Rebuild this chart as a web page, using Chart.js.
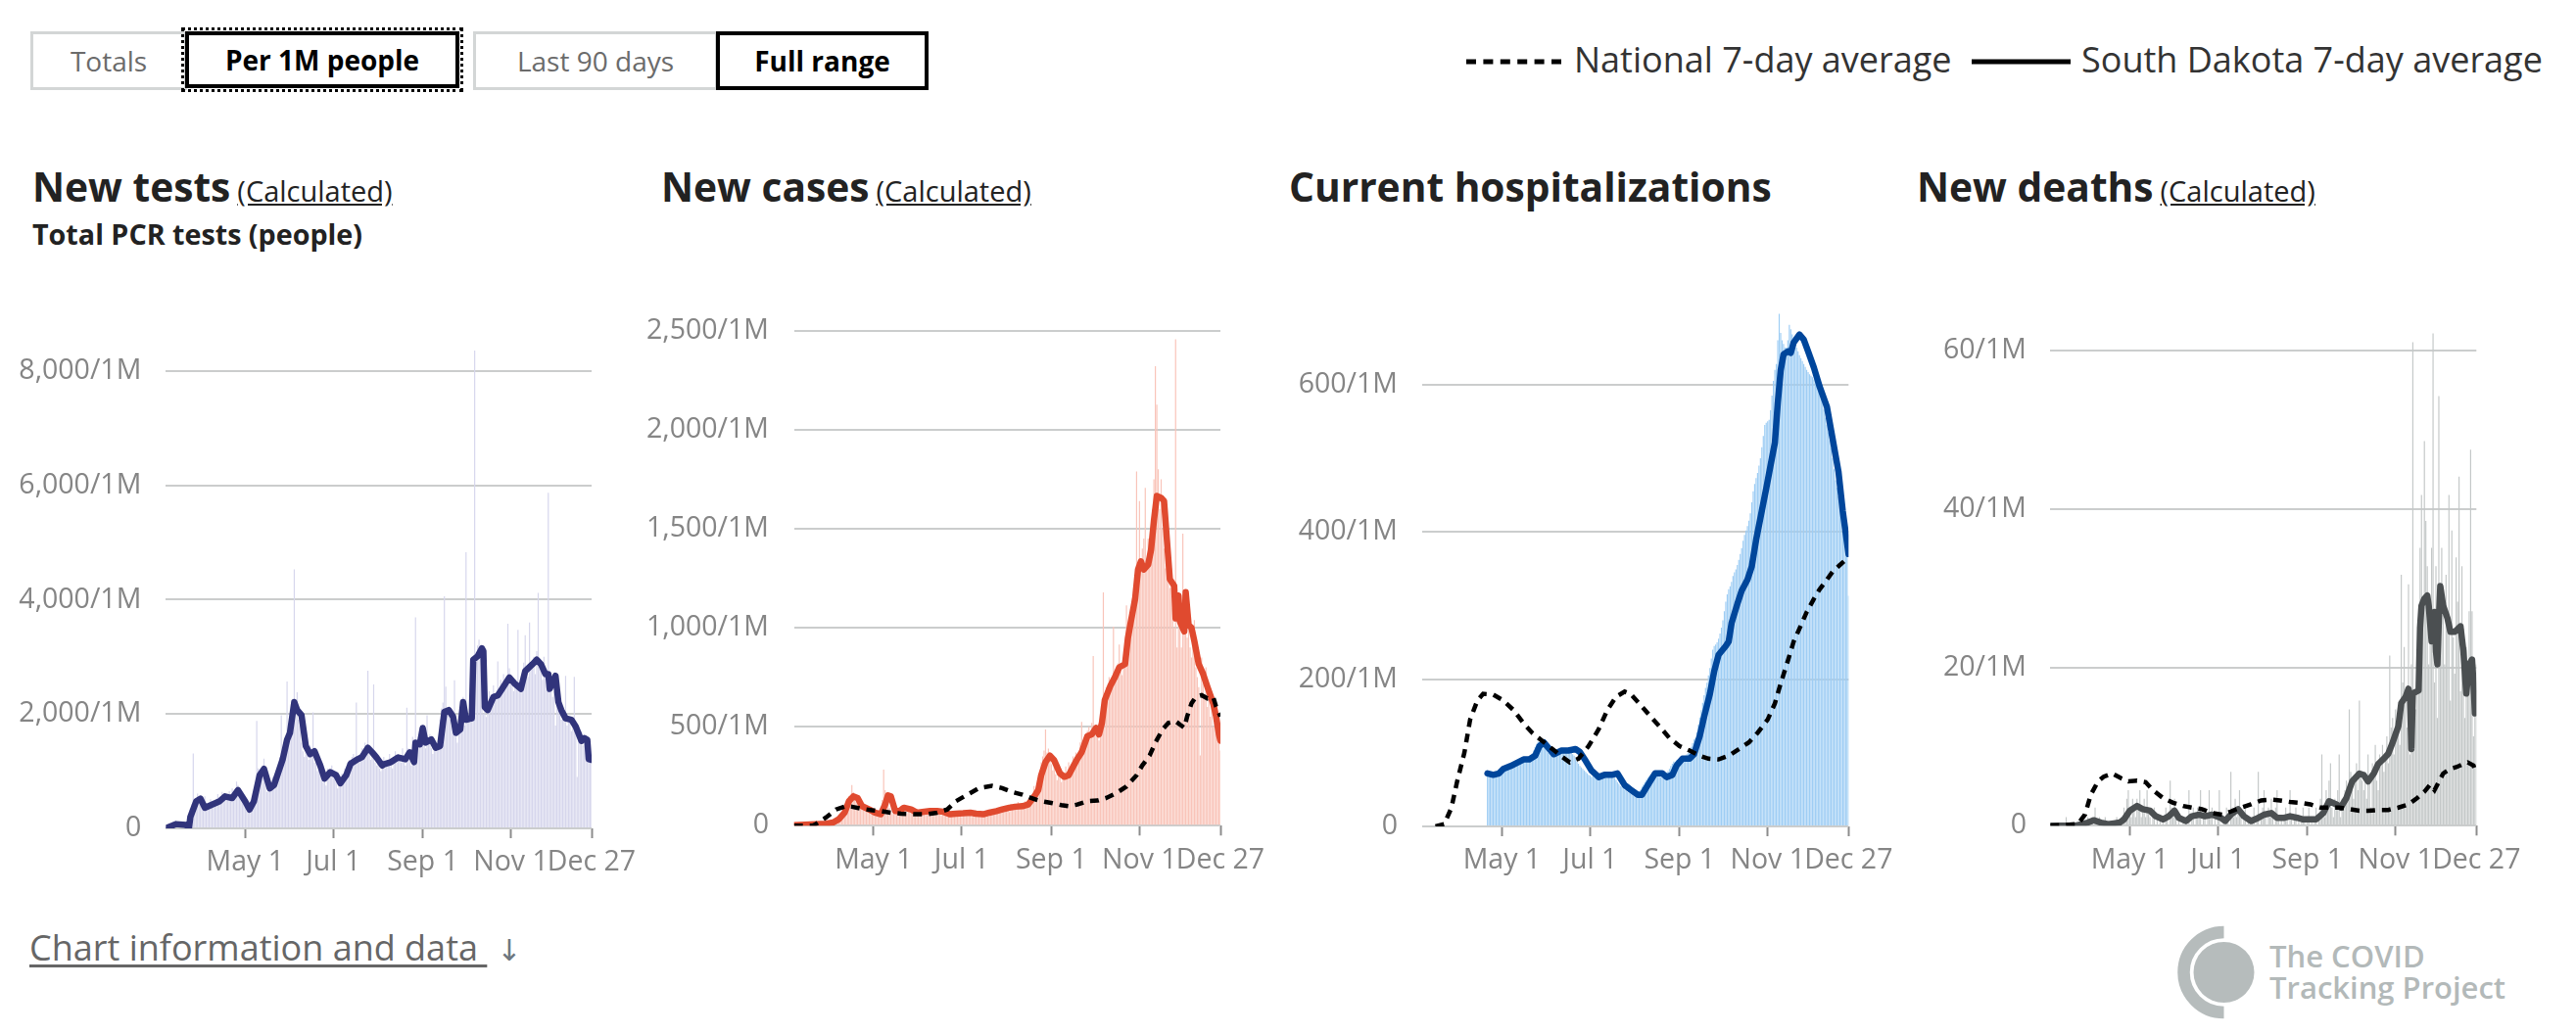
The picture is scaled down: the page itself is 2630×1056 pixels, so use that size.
<!DOCTYPE html>
<html><head><meta charset="utf-8">
<script src="https://cdn.jsdelivr.net/npm/chart.js"></script>
<style>
html,body{margin:0;padding:0;background:#fff;width:2630px;height:1056px;overflow:hidden;font-family:"Open Sans",sans-serif;}
.btn{position:absolute;box-sizing:border-box;display:flex;align-items:center;justify-content:center;font-size:28px;line-height:28px;white-space:nowrap;}
.off{border:3px solid #d3d6d6;color:#6b6b6b;}
.on{border:4px solid #000;color:#000;font-weight:700;}
.title{position:absolute;top:170px;font-size:40.7px;font-weight:700;line-height:41px;color:#222;white-space:nowrap;}
.calc{font-size:29px;font-weight:400;text-decoration:underline;margin-left:7px;color:#222;}
.sub{position:absolute;top:225px;left:33px;font-size:28.7px;font-weight:700;line-height:28px;color:#222;white-space:nowrap;}
.leg{position:absolute;top:43px;font-size:36px;line-height:36px;color:#333;white-space:nowrap;}
canvas{position:absolute;top:245px;}
</style></head><body>

<div class="btn off" style="left:31px;top:32px;width:160px;height:60px;">Totals</div>
<div class="btn on" style="left:189px;top:32px;width:280px;height:58px;outline:3px dotted #000;outline-offset:1px;">Per 1M people</div>
<div class="btn off" style="left:483px;top:32px;width:250px;height:60px;">Last 90 days</div>
<div class="btn on" style="left:731px;top:32px;width:217px;height:60px;">Full range</div>

<svg style="position:absolute;left:0;top:0" width="2630" height="120">
  <line x1="1497" y1="63" x2="1594" y2="63" stroke="#000" stroke-width="5" stroke-dasharray="10 7.4"/>
  <line x1="2013" y1="63" x2="2114" y2="63" stroke="#000" stroke-width="5"/>
</svg>
<div class="leg" style="left:1607px;">National 7-day average</div>
<div class="leg" style="left:2125px;">South Dakota 7-day average</div>

<div class="title" style="left:33px;">New tests<span class="calc">(Calculated)</span></div>
<div class="sub">Total PCR tests (people)</div>
<div class="title" style="left:675px;">New cases<span class="calc">(Calculated)</span></div>
<div class="title" style="left:1316px;">Current hospitalizations</div>
<div class="title" style="left:1957px;">New deaths<span class="calc">(Calculated)</span></div>

<canvas id="c1" width="664" height="680" style="left:0px;width:664px;height:680px;"></canvas>
<canvas id="c2" width="656" height="680" style="left:650px;width:656px;height:680px;"></canvas>
<canvas id="c3" width="658" height="680" style="left:1290px;width:658px;height:680px;"></canvas>
<canvas id="c4" width="654" height="680" style="left:1935px;width:654px;height:680px;"></canvas>

<div style="position:absolute;left:30px;top:950px;font-size:36px;line-height:36px;color:#666;white-space:nowrap;">
  <span style="text-decoration:underline;text-decoration-thickness:3px;text-underline-offset:4px;">Chart information and data&nbsp;</span><span style="margin-left:10px;font-family:'DejaVu Sans';font-size:30px;color:#6d7780;">↓</span>
</div>

<svg style="position:absolute;left:2200px;top:930px" width="430" height="126">
  <path d="M 70.5 22 A 41 41 0 0 0 70.5 104" fill="none" stroke="#b6bcbc" stroke-width="12.5"/>
  <circle cx="70.5" cy="63" r="31" fill="#b6bcbc"/>
  <text x="117" y="58" font-family="Open Sans" font-weight="600" font-size="31" fill="#b3b9b9">The COVID</text>
  <text x="117" y="90" font-family="Open Sans" font-weight="600" font-size="31" fill="#b3b9b9">Tracking Project</text>
</svg>

<script>
// Day index 0 = Mar 7, 2020; 295 = Dec 27, 2020
const xTickDays = [55, 116, 178, 239, 295];
const xTickLabels = ['May 1', 'Jul 1', 'Sep 1', 'Nov 1', 'Dec 27'];

// ---------- New tests (per 1M) ----------
const testsTicks = [0, 2000, 4000, 6000, 8000];
const testsBars = [
0,0,40,0,80,120,60,
90,70,50,110,60,40,80,
50,0,0,350,420,1310,480,
520,610,540,430,380,470,560,
450,380,420,510,470,360,440,
520,600,480,560,640,530,610,
580,520,650,560,700,610,540,
820,760,690,600,520,430,380,
300,280,350,420,560,620,700,
1880,1050,980,900,1100,1220,860,
640,720,780,680,900,760,820,
980,1100,1250,1980,1300,1450,1500,
2570,1600,1750,1900,2100,4530,2000,
2380,1900,1800,1500,1350,1250,1400,
1300,1200,1450,1350,2030,1150,1250,
1000,1100,950,850,800,900,750,
1050,1000,900,1100,950,880,820,
700,780,850,960,900,1050,1000,
1150,1200,1100,1250,1300,1180,2200,
1250,1150,1300,1400,1350,1500,1450,
2760,1350,1200,1300,2520,1150,1100,
1200,1050,1000,1150,1250,1050,1150,
1200,1300,1100,1050,1250,1350,1150,
1300,1250,1150,1400,1200,1100,2110,
1400,1200,1100,1600,1300,3690,1500,
1600,1500,1800,1750,1600,1400,1980,
1500,1650,1400,1300,1550,1450,1350,
1500,1900,2100,2200,4060,2480,2000,
2100,1900,1800,2000,2590,1600,1500,
1700,1900,2000,2300,1800,4830,1850,
2000,1850,2100,2800,8360,3000,3200,
3300,3100,2900,2000,2100,1950,2200,
2400,2200,2350,2500,2250,2300,2920,
2400,2600,2500,2700,2450,2650,3580,
2800,2700,2550,2400,2600,2500,3475,
2500,2400,2700,2900,3380,2800,2650,
3600,2900,2800,3000,2700,3100,4120,
2900,2800,2600,3000,2700,2500,5870,
2500,2600,2300,2400,1800,2200,2100,
2000,1900,2100,2000,2670,1800,1850,
1950,1700,1800,2650,1750,900,1600,
1500,1700,1450,1600,1400,1300,1250,
1200,1150];
const testsLineDays = [0,7,14,16,17,21,24,27,32,37,41,46,50,55,58,61,65,68,72,75,78,81,84,86,89,91,94,97,100,103,107,110,114,118,121,125,128,133,136,140,143,146,150,152,156,161,166,169,172,173,176,178,180,184,187,190,193,196,199,201,204,206,208,212,213,216,219,220,221,223,227,230,233,238,242,246,249,254,257,260,263,265,266,270,272,274,277,281,284,288,290,292,293,295];
const testsLineVals = [0,75,60,0,200,470,520,360,415,470,560,530,670,470,330,470,930,1040,700,760,985,1210,1550,1670,2210,2070,1980,1440,1300,1350,1100,870,985,930,790,930,1130,1210,1250,1410,1330,1240,1100,1130,1160,1240,1210,1330,1160,1500,1470,1755,1500,1555,1410,1440,2040,2070,1955,1670,1730,2210,1900,1925,2950,3010,3150,3100,2120,2070,2300,2325,2440,2640,2525,2440,2750,2870,2950,2870,2700,2700,2440,2670,2210,2070,1925,1900,1780,1530,1580,1550,1210,1200];

// ---------- New cases (per 1M) ----------
const casesTicks = [0, 500, 1000, 1500, 2000, 2500];
const casesBars = [
0,0,0,0,2,0,5,
3,6,4,8,5,7,9,
6,10,12,9,14,15,11,
18,14,20,25,17,22,28,
30,26,35,40,33,45,60,
70,85,110,150,135,206,170,
140,120,110,95,100,90,105,
80,95,70,85,60,75,65,
55,70,45,60,65,130,283,
180,150,120,90,70,60,85,
75,90,65,80,100,95,85,
70,60,85,75,65,80,55,
70,65,50,75,80,60,70,
55,65,75,60,50,70,80,
65,55,60,75,50,65,70,
60,45,55,70,65,50,60,
75,55,60,50,45,70,65,
55,60,50,65,45,70,55,
60,70,55,65,50,75,60,
70,55,80,65,60,75,85,
70,90,75,65,95,80,85,
100,85,70,110,90,95,80,
105,120,90,100,85,115,125,
110,95,130,150,120,200,140,
180,230,280,320,350,380,486,
370,390,340,310,280,300,260,
230,250,280,220,240,260,300,
270,320,290,310,350,330,370,
340,380,420,524,400,390,460,
480,500,440,520,857,460,510,
470,430,520,600,1178,650,700,
680,750,720,690,1005,760,730,
820,915,780,760,850,880,1113,
950,1050,1000,1150,1200,1250,1789,
1300,1640,1350,1400,1450,1706,1300,
1450,1350,1500,1600,1750,2320,2126,
1800,1600,1750,1500,1400,1300,1350,
1250,1200,1300,1100,1000,2456,900,
1150,1050,900,1475,1000,1100,950,
1130,900,850,950,1038,800,750,
700,355,850,720,650,800,600,
700,550,650,500,600,580,450,
420,380];
const casesLineDays = [0,15,22,27,31,35,38,41,44,47,52,56,60,63,65,67,70,73,76,81,85,90,94,99,103,108,112,117,122,126,131,135,140,144,149,153,158,162,167,169,171,174,177,180,184,187,190,193,196,199,203,206,209,211,213,215,219,222,225,229,231,233,236,238,240,242,245,247,249,251,254,256,258,260,263,264,266,267,270,271,273,275,277,280,283,286,290,292,294,295];
const casesLineVals = [3,8,10,16,33,66,124,148,140,99,82,66,58,107,153,148,74,74,91,82,66,71,74,74,71,58,61,63,66,61,58,66,74,82,91,96,99,107,157,181,255,321,354,330,264,247,255,297,338,371,453,461,494,461,519,635,709,750,800,816,948,1030,1146,1294,1335,1294,1319,1393,1541,1665,1656,1640,1442,1245,1212,1047,1162,1030,981,1179,1014,1000,931,816,767,701,618,552,460,430];
const casesNatDays = [0,13,15,22,29,36,40,47,54,60,67,74,83,92,99,106,112,119,128,137,144,151,158,164,171,178,185,190,196,203,210,216,223,230,237,241,246,250,255,259,264,267,270,272,275,278,282,286,290,292,295];
const casesNatVals = [0,0,8,41,82,99,96,86,78,74,66,61,58,58,66,82,124,153,190,201,190,170,157,140,124,115,104,99,107,124,127,140,165,198,255,305,354,420,486,519,528,511,495,552,618,651,659,643,650,602,552];

// ---------- Current hospitalizations (per 1M) ----------
const hospTicks = [0, 200, 400, 600];
const hospBars = [
null,null,null,null,null,null,null,
null,null,null,null,null,null,null,
null,null,null,null,null,null,null,
null,null,null,null,null,null,null,
null,null,null,null,null,null,null,
null,null,null,null,null,null,null,
null,null,null,72,70,73,71,
72,74,73,75,74,76,77,
78,80,79,82,83,84,85,
86,85,88,87,90,89,92,
91,93,92,94,95,97,99,
103,108,112,115,113,110,108,
111,106,104,100,99,101,97,
98,102,104,103,105,101,104,
103,106,104,102,105,100,98,
96,92,88,85,82,80,78,
76,74,72,70,69,67,68,
66,68,69,67,70,71,69,
70,72,71,69,70,72,68,
66,63,60,58,55,54,52,
50,49,47,46,45,44,42,
41,43,45,48,50,54,57,
60,63,66,68,70,72,71,
73,72,70,68,67,69,70,
71,73,75,78,82,85,88,
88,90,91,92,93,94,95,
96,98,100,103,108,113,118,
120,128,138,148,158,168,178,
188,195,205,215,228,240,245,
247,250,255,262,270,280,292,
305,315,322,326,332,340,345,
349,355,362,370,378,388,396,
402,408,415,425,440,455,465,
473,480,490,500,515,530,545,
548,550,552,565,585,605,620,
628,660,696,670,660,655,650,
650,660,681,675,668,660,654,
650,645,640,636,632,628,624,
620,617,614,612,610,607,605,
605,598,590,582,575,566,555,
545,535,525,514,500,485,470,
460,448,435,420,402,398,394,
380,313];
const hospLineDays = [45,49,53,56,61,65,70,74,78,81,84,88,91,96,101,106,109,113,117,122,126,131,135,140,144,149,152,156,161,166,169,173,176,180,185,188,192,195,199,202,205,210,212,214,218,221,225,228,231,235,238,241,244,246,248,250,253,255,257,261,264,267,271,275,280,284,288,291,295];
const hospLineVals = [72,70,72,78,82,86,91,91,96,109,114,105,98,103,103,105,101,89,76,67,70,70,72,56,50,43,43,56,72,72,67,70,83,92,92,98,123,149,180,211,233,245,251,276,302,320,335,353,389,429,459,490,521,575,619,641,645,643,657,668,661,645,623,597,570,526,482,428,370];
const hospNatDays = [9,11,15,20,24,29,33,38,42,49,56,63,70,76,83,90,97,102,108,115,122,128,134,140,144,151,158,165,171,178,185,192,198,205,212,219,226,232,239,244,248,253,257,262,266,271,275,280,284,289,293,295];
const hospNatVals = [0,1,3,25,61,100,145,171,180,179,171,158,140,127,116,105,94,87,92,109,132,158,176,183,180,165,149,134,120,109,103,96,92,91,96,105,114,127,145,167,194,225,251,273,291,309,322,335,346,355,362,366];

// ---------- New deaths (per 1M) ----------
const deathsTicks = [0, 20, 40, 60];
const deathsBars = [
0,0,0,0,0,0,0,
0,0,0,0,1.1,0,0,
0,0,0,0,0,0,0,
0,0,0,0,0,1.1,0,
0,1.1,0,2.3,0,0,1.1,
0,0,0,1.1,0,0,0,
0,0,0,0,1.1,0,0,
1.1,0,2.3,1.1,3.4,4.5,2.3,
1.1,3.4,2.3,1.1,3.4,2.3,4.5,
1.1,2.3,3.4,1.1,4.5,2.3,1.1,
0,1.1,2.3,0,1.1,0,1.1,
0,1.1,0,2.3,1.1,0,5.7,
2.3,1.1,3.4,1.1,0,1.1,0,
0,1.1,0,1.1,0,4.5,0,
1.1,2.3,0,1.1,2.3,1.1,4.5,
0,1.1,2.3,0,1.1,4.5,1.1,
2.3,0,1.1,0,1.1,4.5,0,
0,1.1,0,2.3,1.1,0,6.8,
2.3,1.1,3.4,1.1,2.3,4.5,1.1,
0,1.1,2.3,0,1.1,0,0,
1.1,2.3,0,1.1,6.8,0,1.1,
2.3,4.5,1.1,0,2.3,1.1,3.4,
1.1,0,2.3,4.5,1.1,0,1.1,
0,1.1,2.3,1.1,0,4.5,1.1,
0,1.1,2.3,0,1.1,0,1.1,
2.3,1.1,0,1.1,2.3,0,1.1,
0,1.1,2.3,0,1.1,3.4,9.0,
2.3,1.1,4.5,3.4,5.7,7.9,2.3,
1.1,3.4,2.3,4.5,9.0,1.1,3.4,
2.3,4.5,5.7,3.4,14.7,6.8,4.5,
3.4,5.7,7.9,4.5,15.8,6.8,5.7,
4.5,6.8,3.4,9.0,5.7,2.3,7.9,
6.8,10.2,5.7,4.5,9.0,7.9,10.2,
6.8,9.0,11.3,7.9,21.5,12.4,13.6,
9.0,14.7,11.3,13.6,10.2,31.7,18.1,
22.6,15.8,12.4,30.5,9.0,20.4,61.1,
17.0,14.7,19.2,24.9,35.1,41.8,27.1,
48.6,38.5,32.8,20.4,26.0,35.1,62.2,
18.1,32.8,13.6,54.3,22.6,35.1,28.3,
20.4,31.7,26.0,41.8,15.8,37.3,23.8,
19.2,33.9,28.3,44.1,17.0,32.8,24.9,
13.6,22.6,18.1,27.1,47.5,27.1,11.3,
15.8,20.4];
const deathsLineDays = [0,17,22,26,30,35,40,44,48,51,55,60,64,69,73,78,82,86,89,94,98,103,107,112,118,121,125,130,134,139,144,148,153,157,162,166,171,175,180,184,189,193,198,201,205,209,214,217,220,224,227,231,234,237,241,243,246,248,249,250,251,253,255,256,257,259,261,262,264,265,266,267,268,269,270,272,275,277,280,284,286,288,290,292,293,294,295];
const deathsLineVals = [0,0,0.2,0.4,0.7,0.4,0.2,0.3,0.4,0.8,1.9,2.5,2.1,1.9,1.2,0.8,1.2,1.9,1.0,0.6,1.2,1.4,1.2,1.4,1.0,0.6,1.4,2.1,1.2,0.6,1.0,1.4,1.6,1.0,1.0,1.2,1.0,0.8,0.8,0.8,1.6,3.1,2.7,2.3,3.5,5.6,6.6,6.4,5.6,6.6,7.8,8.5,9.1,10.5,12.6,15.5,16.3,17.3,16.5,9.7,16.7,16.9,17.1,25,27.8,28.7,29.1,27.8,23.3,25,27,22,20.4,26,30.3,27.8,26.2,24.5,24.5,25.2,22.1,16.7,20.4,21,18,14.2,14.5];
const deathsNatDays = [0,19,24,28,33,37,43,49,54,60,66,71,78,85,92,98,105,112,119,125,132,139,146,153,159,166,173,180,187,193,200,207,214,220,227,234,241,248,254,259,263,266,268,272,277,281,286,289,293,295];
const deathsNatVals = [0,0.2,1.4,3.9,5.6,6.2,6.6,6.0,5.6,5.7,5.5,4.5,3.5,2.9,2.5,2.3,2.1,1.6,1.4,1.8,2.3,2.7,3.2,3.3,3.2,3.0,2.9,2.7,2.3,2.3,2.3,2.1,1.9,1.9,2.0,2.0,2.3,2.7,3.5,4.3,5.2,4.5,5.2,6.6,7.2,7.4,7.8,8.0,7.6,6.6];

function pts(days, vals) {
  const n = Math.min(days.length, vals.length);
  const out = [];
  for (let i = 0; i < n; i++) out.push({x: days[i], y: vals[i]});
  return out;
}

function buildChart(id, o) {
  const datasets = [
    {type: 'line', data: pts(o.natDays, o.natVals), borderColor: '#000', borderWidth: 4.5,
     borderDash: [9, 7], pointRadius: 0, tension: 0, order: 0},
    {type: 'line', data: pts(o.lineDays, o.lineVals), borderColor: o.lineColor, borderWidth: 6.5,
     pointRadius: 0, tension: 0, borderJoinStyle: 'round', borderCapStyle: 'round', order: 1},
    {type: 'bar', data: o.bars.map((v, i) => ({x: i, y: v})), backgroundColor: o.barColor,
     barPercentage: 0.8, categoryPercentage: 1, order: 2}
  ];
  new Chart(document.getElementById(id), {
    type: 'bar',
    data: {datasets},
    options: {
      responsive: false, animation: false, devicePixelRatio: 1,
      layout: {padding: {top: o.padTop, bottom: o.padBottom, left: 10, right: o.padRight}},
      plugins: {legend: {display: false}, tooltip: {enabled: false}},
      scales: {
        x: {
          type: 'linear', min: 0, max: 295, offset: false,
          afterBuildTicks: s => { s.ticks = xTickDays.map(v => ({value: v})); },
          afterFit: s => { s.height = 70; },
          grid: {display: true, drawOnChartArea: false, drawTicks: true, tickLength: 10,
                 tickWidth: 2, tickColor: '#8c8c8c', offset: false},
          border: {display: false},
          ticks: {autoSkip: false, maxRotation: 0, minRotation: 0, padding: 8, color: '#858585',
                  font: {family: 'Open Sans', size: 28.5},
                  callback: v => { const k = xTickDays.indexOf(v); return k >= 0 ? xTickLabels[k] : ''; }}
        },
        y: {
          type: 'linear', min: 0, max: o.yMax,
          afterBuildTicks: s => { s.ticks = o.yTicks.map(v => ({value: v})); },
          afterFit: s => { s.width = o.yWidth; },
          grid: {color: '#cbcdcd', lineWidth: 2, drawTicks: false},
          border: {display: false},
          ticks: {padding: o.yPad, color: '#858585', font: {family: 'Open Sans', size: 28.5},
                  callback: v => v === 0 ? '0' : v.toLocaleString('en-US') + '/1M'}
        }
      }
    }
  });
}

buildChart('c1', {bars: testsBars, barColor: '#d6d6ec', lineDays: testsLineDays, lineVals: testsLineVals,
  lineColor: '#31347b', natDays: [], natVals: [], yTicks: testsTicks, yMax: 8500,
  padTop: 104.8, padBottom: 9, padRight: 60, yWidth: 159.3, yPad: 25});
buildChart('c2', {bars: casesBars, barColor: '#f9c4b9', lineDays: casesLineDays, lineVals: casesLineVals,
  lineColor: '#e04a2f', natDays: casesNatDays, natVals: casesNatVals, yTicks: casesTicks, yMax: 2500,
  padTop: 92.7, padBottom: 11.7, padRight: 60, yWidth: 150.7, yPad: 25.7});
buildChart('c3', {bars: hospBars, barColor: '#9ecdf4', lineDays: hospLineDays, lineVals: hospLineVals,
  lineColor: '#00469b', natDays: hospNatDays, natVals: hospNatVals, yTicks: hospTicks, yMax: 700,
  padTop: 72.5, padBottom: 11, padRight: 60.7, yWidth: 152.3, yPad: 25.3});
buildChart('c4', {bars: deathsBars, barColor: '#c4c8c8', lineDays: deathsLineDays, lineVals: deathsLineVals,
  lineColor: '#4b4f51', natDays: deathsNatDays, natVals: deathsNatVals, yTicks: deathsTicks, yMax: 64,
  padTop: 81, padBottom: 11.7, padRight: 60.7, yWidth: 148.3, yPad: 24.3});
</script>
</body></html>
